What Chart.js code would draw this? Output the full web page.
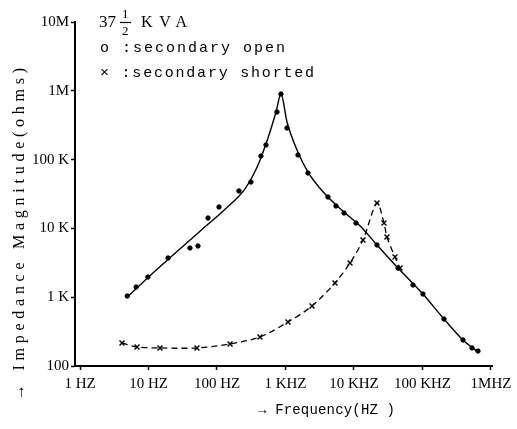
<!DOCTYPE html>
<html>
<head>
<meta charset="utf-8">
<script src="https://cdn.jsdelivr.net/npm/chart.js@4.4.1/dist/chart.umd.min.js"></script>
<style>
  html, body { margin: 0; padding: 0; background: #fff; }
  #wrap { width: 517px; height: 429px; position: relative; }
</style>
</head>
<body>
<div id="wrap"><canvas id="chart"></canvas></div>
<script>
// ── Data ──────────────────────────────────────────────────────────────────────
// axis ticks
const X_TICKS  = [1, 10, 100, 1e3, 1e4, 1e5, 1e6];
const X_LABELS = ["1 HZ", "10 HZ", "100 HZ", "1 KHZ", "10 KHZ", "100 KHZ", "1MHZ"];
const Y_TICKS  = [100, 1e3, 1e4, 1e5, 1e6, 1e7];
const Y_LABELS = ["100", "1 K", "10 K", "100 K", "1M", "10M"];

// secondary open: smooth fitted curve (Hz, ohms)
const OPEN_CURVE_F = [4.9, 10.4, 24.4, 56.5, 131, 256, 397, 555, 727, 859,
                      1052, 1472, 2128, 3780, 7145, 12320, 21660, 43900, 101600, 206000, 390000, 646000];
const OPEN_CURVE_Z = [1006, 2040, 4350, 9100, 19000, 37500, 83500, 206000, 492000, 898000,
                      352000, 138000, 66000, 31600, 17300, 10800, 5740, 2656, 1113, 482, 239, 160];

// secondary open: measured points
const OPEN_F = [4.9, 6.6, 9.8, 19.3, 40.3, 52.8, 73.9, 107, 209, 313, 438, 519, 751, 859,
                1052, 1521, 2128, 4169, 5458, 7145, 10700, 21660, 43900, 72600, 101600, 206000, 390000, 528000, 646000];
const OPEN_Z = [1040, 1407, 1966, 3715, 5190, 5550, 14160, 20470, 34980, 47230, 112800, 163000, 492000, 898000,
                288000, 116700, 63900, 28600, 21170, 16740, 11980, 5740, 2656, 1504, 1113, 482, 239, 183, 165];

// secondary shorted: measured points
const SHORT_F = [4.1, 6.8, 14.7, 51, 155, 424, 1087, 2438, 5284, 8750, 13530, 21660, 27400, 30300, 39700, 47000];
const SHORT_Z = [216, 189, 183, 183, 209, 264, 436, 745, 1610, 3140, 6780, 23400, 11980, 7500, 3840, 2656];

// ── Helpers ───────────────────────────────────────────────────────────────────
const pts = (xs, ys) => xs.map((x, i) => ({ x, y: ys[i] }));

const SERIF = "'Liberation Serif', 'DejaVu Serif', serif";
const MONO  = "'Liberation Mono', 'DejaVu Sans Mono', monospace";

function spacedText(ctx, txt, x, y, targetW) {
  ctx.letterSpacing = "0px";
  const w = ctx.measureText(txt).width;
  const sp = targetW ? Math.max(0, (targetW - w) / Math.max(1, txt.length - 1)) : 0;
  ctx.letterSpacing = sp + "px";
  ctx.fillText(txt, x, y);
  ctx.letterSpacing = "0px";
}

// ── Annotation plugin: legend text + axis titles ──────────────────────────────
const annotate = {
  id: "annotate",
  afterDraw(chart) {
    const ctx = chart.ctx;
    ctx.save();
    ctx.fillStyle = "#000";
    ctx.strokeStyle = "#000";
    ctx.textBaseline = "alphabetic";
    ctx.textAlign = "left";

    // 37 1/2 KVA
    ctx.font = "17px " + SERIF;
    ctx.fillText("37", 99, 27);
    ctx.font = "13px " + SERIF;
    ctx.fillText("1", 122, 18);
    ctx.fillText("2", 122, 35);
    ctx.lineWidth = 1.2;
    ctx.beginPath(); ctx.moveTo(120, 22.5); ctx.lineTo(131, 22.5); ctx.stroke();
    ctx.font = "16px " + SERIF;
    spacedText(ctx, "KVA", 141, 27, 46);

    // legend rows
    ctx.font = "15px " + MONO;
    ctx.textBaseline = "middle";
    spacedText(ctx, "o :secondary open", 100, 48, 185);
    spacedText(ctx, "\u00d7 :secondary shorted", 100, 73, 214);

    // x title
    ctx.font = "14px " + MONO;
    spacedText(ctx, "\u2192 Frequency(HZ )", 258, 410, 137);

    // y title (rotated)
    ctx.translate(20, 400);
    ctx.rotate(-Math.PI / 2);
    ctx.font = "16px " + SERIF;
    spacedText(ctx, "\u2192 Impedance Magnitude(ohms)", 0, 0, 332);
    ctx.restore();
  }
};

// ── Chart ─────────────────────────────────────────────────────────────────────
new Chart(document.getElementById("chart"), {
  type: "scatter",
  data: {
    datasets: [
      {
        label: "open curve",
        data: pts(OPEN_CURVE_F, OPEN_CURVE_Z),
        showLine: true,
        borderColor: "#000",
        borderWidth: 1.4,
        pointRadius: 0,
        cubicInterpolationMode: "monotone",
      },
      {
        label: "secondary open",
        data: pts(OPEN_F, OPEN_Z),
        showLine: false,
        pointRadius: 2.2,
        pointBackgroundColor: "#000",
        pointBorderColor: "#000",
      },
      {
        label: "secondary shorted",
        data: pts(SHORT_F, SHORT_Z),
        showLine: true,
        borderColor: "#000",
        borderWidth: 1.3,
        borderDash: [6, 4],
        tension: 0.3,
        pointStyle: "crossRot",
        pointRadius: 3.5,
        pointBorderWidth: 1.4,
        pointBorderColor: "#000",
      },
    ],
  },
  options: {
    responsive: true,
    maintainAspectRatio: false,
    animation: false,
    layout: { padding: { left: 0, right: 25, top: 22, bottom: 0 } },
    plugins: { legend: { display: false }, tooltip: { enabled: false } },
    scales: {
      x: {
        type: "logarithmic",
        min: 0.845,
        max: 1.035e6,
        afterFit: s => { s.height = 63; },
        afterBuildTicks: s => { s.ticks = X_TICKS.map(v => ({ value: v })); },
        grid: { display: true, drawOnChartArea: false, color: "#000", tickLength: 4, tickWidth: 1.5 },
        border: { display: true, color: "#000", width: 2 },
        ticks: {
          color: "#000",
          padding: 5,
          autoSkip: false,
          maxRotation: 0,
          font: { family: SERIF, size: 15 },
          callback: (v, i) => X_LABELS[i],
        },
      },
      y: {
        type: "logarithmic",
        min: 100,
        max: 1e7,
        afterFit: s => { s.width = 75; },
        afterBuildTicks: s => { s.ticks = Y_TICKS.map(v => ({ value: v })); },
        grid: { display: true, drawOnChartArea: false, color: "#000", tickLength: 4, tickWidth: 1.5 },
        border: { display: true, color: "#000", width: 2 },
        ticks: {
          color: "#000",
          padding: 2,
          autoSkip: false,
          font: { family: SERIF, size: 15 },
          callback: (v, i) => Y_LABELS[i],
        },
      },
    },
  },
  plugins: [annotate],
});
</script>
</body>
</html>
